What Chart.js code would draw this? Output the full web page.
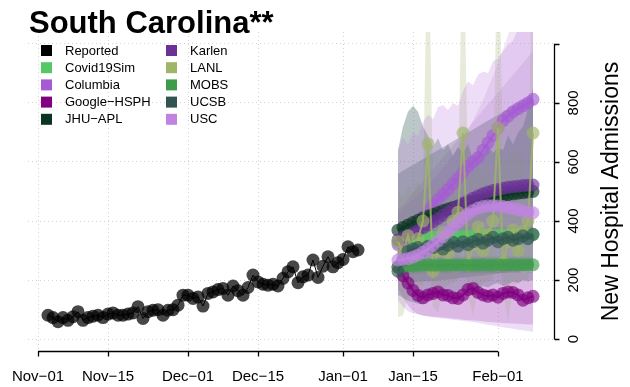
<!DOCTYPE html>
<html>
<head>
<meta charset="utf-8">
<script src="https://cdn.jsdelivr.net/npm/chart.js@4.4.1/dist/chart.umd.min.js"></script>
<style>
  html, body { margin: 0; padding: 0; background: #fff; }
  #wrap { width: 630px; height: 387px; }
</style>
</head>
<body>
<div id="wrap"><canvas id="chart" width="630" height="387"></canvas></div>
<script>
const titleText = "South Carolina**";
const yAxisTitle = "New Hospital Admissions";

// x values are days counted from Nov-01
const xTickDays = [0, 14, 30, 44, 61, 75, 92];
const xTickLabels = ["Nov\u221201", "Nov\u221215", "Dec\u221201", "Dec\u221215", "Jan\u221201", "Jan\u221215", "Feb\u221201"];
const yTicks = [0, 200, 400, 600, 800, 1000];
const yTickLabels = ["0", "200", "400", "600", "800", ""];

// reported admissions, one value per day from Nov-03
const reportedStart = 2;
const reported = [
  81, 73, 59, 73, 64, 76, 93, 64, 73, 78,
  81, 73, 85, 89, 81, 81, 85, 89, 110, 70,
  93, 98, 100, 81, 98, 100, 115, 149, 149, 138,
  143, 112, 155, 160, 168, 172, 149, 180, 164, 149,
  175, 217, 194, 186, 183, 186, 180, 206, 228, 245,
  191, 211, 217, 268, 209, 247, 279, 245, 259, 270,
  313, 296, 302
];

// forecasts, one value per day from Jan-12
const forecastStart = 72;
const covid19Sim = [328, 332, 336, 339, 341, 343, 344, 345, 346, 347, 347, 348, 348, 349, 349, 350, 350, 350, 351, 351, 351, 352, 352, 352, 353, 353, 353, 354];
const covid19SimLo = [300, 305, 310, 312, 314, 315, 316, 317, 318, 318, 319, 319, 320, 320, 320, 321, 321, 321, 322, 322, 322, 322, 323, 323, 323, 323, 324, 324];
const covid19SimHi = [360, 362, 366, 368, 370, 372, 373, 374, 375, 376, 376, 377, 377, 378, 378, 379, 379, 379, 380, 380, 380, 381, 381, 381, 382, 382, 382, 383];

const columbia = [320, 335, 355, 375, 395, 415, 435, 455, 472, 490, 507, 525, 545, 565, 585, 600, 615, 640, 665, 690, 715, 740, 755, 770, 780, 790, 800, 812];
const columbiaLo = [240, 245, 250, 260, 270, 280, 290, 300, 310, 320, 330, 340, 350, 360, 370, 380, 390, 400, 410, 420, 430, 440, 450, 460, 470, 480, 490, 500];
const columbiaHi = [430, 445, 460, 475, 490, 505, 520, 540, 560, 580, 600, 625, 650, 680, 710, 740, 775, 810, 850, 890, 935, 980, 1030, 1080, 1130, 1180, 1240, 1300];

const googleHsph = [245, 215, 190, 165, 148, 140, 150, 155, 160, 150, 148, 140, 138, 150, 168, 172, 158, 150, 145, 150, 142, 155, 160, 158, 150, 132, 140, 145];
const googleHsphLo = [170, 140, 115, 95, 85, 80, 78, 76, 75, 73, 72, 70, 68, 66, 65, 63, 62, 60, 58, 57, 56, 55, 54, 53, 52, 51, 50, 50];
const googleHsphHi = [320, 290, 265, 245, 230, 225, 228, 232, 235, 230, 228, 225, 224, 230, 240, 245, 238, 232, 230, 232, 228, 235, 238, 236, 232, 222, 226, 230];

const jhuApl = [369, 378, 387, 395, 403, 410, 417, 423, 429, 435, 441, 446, 451, 456, 461, 465, 469, 473, 477, 480, 483, 486, 489, 492, 494, 496, 498, 500];
const jhuAplLo = [200, 198, 196, 195, 195, 195, 196, 197, 198, 200, 202, 204, 206, 208, 210, 212, 214, 216, 218, 220, 222, 224, 226, 228, 230, 232, 234, 236];
const jhuAplHi = [560, 570, 580, 590, 600, 610, 620, 630, 640, 650, 660, 670, 680, 690, 700, 710, 720, 730, 740, 750, 760, 770, 780, 790, 800, 810, 820, 830];

const karlen = [336, 343, 350, 358, 367, 377, 387, 398, 409, 420, 431, 441, 451, 460, 469, 477, 485, 492, 498, 503, 507, 511, 514, 516, 518, 520, 521, 522];
const karlenLo = [250, 255, 260, 265, 270, 275, 280, 285, 290, 295, 300, 305, 310, 315, 320, 325, 330, 335, 340, 345, 350, 355, 360, 365, 370, 375, 380, 385];
const karlenHi = [440, 455, 475, 495, 515, 535, 555, 575, 595, 615, 635, 655, 675, 695, 715, 735, 755, 775, 795, 815, 835, 855, 875, 895, 915, 935, 955, 975];

const lanl = [330, 290, 350, 280, 340, 400, 661, 230, 300, 360, 290, 400, 430, 698, 250, 320, 380, 300, 355, 400, 715, 260, 330, 370, 300, 365, 400, 698];
const lanlLo = [75, 80, 150, 170, 180, 185, 300, 110, 90, 170, 185, 190, 200, 320, 150, 80, 180, 190, 195, 200, 330, 160, 60, 180, 190, 195, 200, 330];
const lanlHi = [500, 480, 520, 500, 540, 500, 1500, 500, 520, 540, 520, 560, 500, 1500, 540, 560, 580, 560, 600, 500, 1500, 600, 620, 640, 620, 660, 500, 1500];

const mobs = [243, 246, 248, 249, 250, 250, 251, 250, 251, 251, 250, 251, 251, 251, 250, 251, 251, 252, 251, 251, 252, 251, 252, 252, 251, 252, 252, 252];
const mobsLo = [215, 218, 220, 221, 222, 222, 223, 223, 223, 223, 223, 223, 223, 223, 223, 223, 223, 224, 224, 224, 224, 224, 224, 224, 224, 224, 224, 224];
const mobsHi = [272, 274, 276, 277, 278, 278, 279, 279, 279, 279, 279, 279, 279, 279, 279, 280, 280, 280, 280, 280, 280, 280, 280, 280, 280, 280, 280, 280];

const ucsb = [230, 268, 298, 305, 310, 300, 315, 310, 320, 305, 318, 328, 315, 330, 320, 330, 338, 325, 335, 345, 330, 340, 345, 335, 340, 350, 340, 355];
const ucsbLo = [150, 140, 130, 125, 120, 118, 130, 140, 150, 145, 150, 160, 155, 165, 170, 160, 170, 180, 175, 185, 190, 180, 185, 195, 190, 200, 195, 200];
const ucsbHi = [640, 720, 770, 790, 770, 720, 690, 650, 680, 640, 660, 620, 650, 630, 660, 610, 640, 620, 660, 630, 650, 640, 690, 660, 700, 720, 780, 850];

const usc = [268, 270, 273, 278, 285, 295, 305, 318, 332, 347, 363, 379, 395, 411, 425, 436, 444, 449, 452, 452, 451, 449, 446, 442, 438, 434, 430, 428];
const uscLo = [130, 110, 95, 88, 84, 80, 77, 74, 72, 70, 68, 66, 64, 62, 60, 58, 55, 52, 49, 46, 43, 40, 38, 35, 32, 30, 28, 25];
const uscHi = [640, 681, 660, 700, 690, 735, 760, 745, 785, 793, 776, 800, 790, 840, 872, 860, 895, 906, 900, 940, 952, 975, 997, 1010, 1050, 1080, 1100, 1120];

const models = [
  { name: "Covid19Sim", color: "#55c865", mid: covid19Sim, lo: covid19SimLo, hi: covid19SimHi, band: 0.25 },
  { name: "Columbia", color: "#a65bd4", mid: columbia, lo: columbiaLo, hi: columbiaHi, band: 0.16 },
  { name: "Google\u2212HSPH", color: "#800080", mid: googleHsph, lo: googleHsphLo, hi: googleHsphHi, band: 0.2 },
  { name: "JHU\u2212APL", color: "#0a3522", mid: jhuApl, lo: jhuAplLo, hi: jhuAplHi, band: 0.26 },
  { name: "Karlen", color: "#6a3196", mid: karlen, lo: karlenLo, hi: karlenHi, band: 0.12 },
  { name: "LANL", color: "#a0b46a", mid: lanl, lo: lanlLo, hi: lanlHi, band: 0.25 },
  { name: "MOBS", color: "#3f9b4c", mid: mobs, lo: mobsLo, hi: mobsHi, band: 0.25 },
  { name: "UCSB", color: "#2f5452", mid: ucsb, lo: ucsbLo, hi: ucsbHi, band: 0.32 },
  { name: "USC", color: "#c084e0", mid: usc, lo: uscLo, hi: uscHi, band: 0.28 }
];

function rgba(hex, a) {
  const n = parseInt(hex.slice(1), 16);
  return "rgba(" + (n >> 16) + "," + ((n >> 8) & 255) + "," + (n & 255) + "," + a + ")";
}
function toPoints(start, vals) {
  return vals.map((v, i) => ({ x: start + i, y: v }));
}

const datasets = [];
// uncertainty bands first (drawn underneath)
models.forEach((m, k) => {
  datasets.push({
    data: toPoints(forecastStart, m.lo),
    borderWidth: 0, borderColor: "transparent", pointRadius: 0,
    fill: false, order: 100 - k
  });
  datasets.push({
    data: toPoints(forecastStart, m.hi),
    borderWidth: 0, borderColor: "transparent", pointRadius: 0,
    backgroundColor: rgba(m.color, m.band),
    fill: "-1", order: 100 - k
  });
});
// forecast lines and points
models.forEach((m, k) => {
  datasets.push({
    data: toPoints(forecastStart, m.mid),
    borderColor: rgba(m.color, 0.85), borderWidth: 2,
    pointRadius: 6.5, pointBorderWidth: 0,
    pointBackgroundColor: rgba(m.color, 0.65),
    fill: false, order: 50 - k
  });
});
datasets.push({
  data: toPoints(reportedStart, reported),
  borderColor: "#000", borderWidth: 1,
  pointRadius: 6.5, pointBorderWidth: 0,
  pointBackgroundColor: "rgba(0,0,0,0.72)",
  fill: false, order: 60
});

const FONT = '"Liberation Sans", Arial, sans-serif';

const decor = {
  id: "decor",
  afterDraw(chart) {
    const { ctx, chartArea: a, scales: { x, y } } = chart;
    ctx.save();
    ctx.fillStyle = "#000";
    ctx.strokeStyle = "#000";

    // title
    ctx.font = "bold 31px " + FONT;
    ctx.textAlign = "left";
    ctx.textBaseline = "alphabetic";
    ctx.fillText(titleText, 29, 33);

    // legend, two columns
    const entries = [{ name: "Reported", color: "#000000" }].concat(models);
    ctx.font = "13px " + FONT;
    ctx.textBaseline = "middle";
    entries.forEach((e, i) => {
      const col = Math.floor(i / 5), row = i % 5;
      const sx = col === 0 ? 41 : 166;
      const cy = 50.5 + row * 17.2;
      ctx.fillStyle = e.color;
      ctx.fillRect(sx, cy - 5.5, 11, 11);
      ctx.fillStyle = "#000";
      ctx.fillText(e.name, sx + 24, cy + 0.5);
    });

    // x axis
    ctx.lineWidth = 1.3;
    const xb = a.bottom + 0.5;
    ctx.beginPath();
    ctx.moveTo(x.getPixelForValue(xTickDays[0]), xb);
    ctx.lineTo(x.getPixelForValue(xTickDays[xTickDays.length - 1]), xb);
    xTickDays.forEach(d => {
      const px = Math.round(x.getPixelForValue(d)) + 0.5;
      ctx.moveTo(px, xb);
      ctx.lineTo(px, xb + 5);
    });
    ctx.stroke();
    ctx.font = "15px " + FONT;
    ctx.textAlign = "center";
    ctx.textBaseline = "middle";
    xTickDays.forEach((d, i) => {
      ctx.fillText(xTickLabels[i], x.getPixelForValue(d), 377);
    });

    // y axis on the right
    const yx = a.right + 1.5;
    ctx.beginPath();
    ctx.moveTo(yx, y.getPixelForValue(yTicks[0]));
    ctx.lineTo(yx, y.getPixelForValue(yTicks[yTicks.length - 1]));
    yTicks.forEach(v => {
      const py = Math.round(y.getPixelForValue(v)) + 0.5;
      ctx.moveTo(yx, py);
      ctx.lineTo(yx + 5, py);
    });
    ctx.stroke();
    yTicks.forEach((v, i) => {
      ctx.save();
      ctx.translate(574, y.getPixelForValue(v));
      ctx.rotate(-Math.PI / 2);
      ctx.fillText(yTickLabels[i], 0, 0);
      ctx.restore();
    });
    ctx.save();
    ctx.font = "23px " + FONT;
    ctx.translate(612, (a.top + a.bottom) / 2);
    ctx.rotate(-Math.PI / 2);
    ctx.fillText(yAxisTitle, 0, 0);
    ctx.restore();

    ctx.restore();
  }
};

const gridOpts = { color: "#d3d3d3", lineWidth: 1, drawTicks: false };
const borderOpts = { display: false, dash: [1, 3] };

new Chart(document.getElementById("chart").getContext("2d"), {
  type: "line",
  data: { datasets: datasets },
  options: {
    responsive: false,
    animation: false,
    events: [],
    devicePixelRatio: 1,
    layout: { padding: { left: 28, right: 77, top: 32, bottom: 36 } },
    elements: { line: { tension: 0 } },
    scales: {
      x: {
        type: "linear", min: -2, max: 103,
        afterBuildTicks: s => { s.ticks = xTickDays.map(v => ({ value: v })); },
        ticks: { display: false },
        grid: gridOpts, border: borderOpts
      },
      y: {
        type: "linear", position: "right", min: -40, max: 1040,
        afterBuildTicks: s => { s.ticks = yTicks.map(v => ({ value: v })); },
        ticks: { display: false },
        grid: gridOpts, border: borderOpts
      }
    },
    plugins: {
      legend: { display: false },
      tooltip: { enabled: false },
      title: { display: false }
    }
  },
  plugins: [decor]
});
</script>
</body>
</html>
